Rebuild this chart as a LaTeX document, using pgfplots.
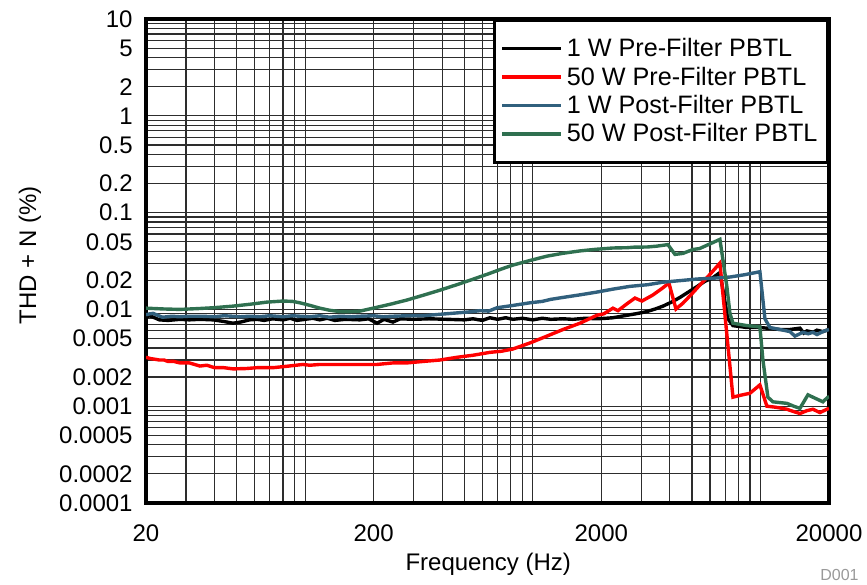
\documentclass[border=0pt]{standalone}
\usepackage{pgfplots}
\pgfplotsset{compat=1.18}
\usepackage{fontspec}
\setmainfont{Liberation Sans}
\definecolor{tiblue}{RGB}{49,96,125}
\definecolor{tigreen}{RGB}{47,112,80}
\definecolor{gridc}{RGB}{45,45,45}
\begin{document}
\fontsize{12pt}{14pt}\selectfont
\begin{tikzpicture}
\useasboundingbox (-73pt,-40.5pt) rectangle (360.5pt,251.5pt);
\begin{axis}[
  scale only axis, width=341.5pt, height=242pt,
  xmode=log, ymode=log,
  xmin=20, xmax=20000, ymin=0.0001, ymax=10,
  xtick={20,200,2000,20000}, xticklabels={20,200,2000,20000},
  minor xtick={30,40,50,60,70,80,90,100,300,400,500,600,700,800,900,1000,3000,4000,5000,6000,7000,8000,9000,10000},
  ytick={0.0001,0.0002,0.0005,0.001,0.002,0.005,0.01,0.02,0.05,0.1,0.2,0.5,1,2,5,10},
  yticklabels={0.0001,0.0002,0.0005,0.001,0.002,0.005,0.01,0.02,0.05,0.1,0.2,0.5,1,2,5,10},
  minor ytick={0.0003,0.0004,0.0006,0.0007,0.0008,0.0009,0.003,0.004,0.006,0.007,0.008,0.009,0.03,0.04,0.06,0.07,0.08,0.09,0.3,0.4,0.6,0.7,0.8,0.9,3,4,6,7,8,9},
  grid=both,
  major grid style={draw=gridc, line width=0.6pt},
  minor grid style={draw=gridc, line width=0.6pt},
  major tick length=0pt, minor tick length=0pt,
  axis line style={line width=2pt},
  xticklabel shift=6.5pt, yticklabel shift=2.5pt,
  xlabel={Frequency (Hz)}, ylabel={THD + N (\%)},
  xlabel style={at={(axis description cs:0.501,-0.127)}, anchor=center},
  ylabel style={at={(axis description cs:-0.170,0.512)}, anchor=center},
  legend cell align=left,
  legend style={at={(rel axis cs:1,1)}, anchor=north east, draw=black, line width=1.5pt, fill=white,
    font=\fontsize{12.6pt}{14pt}\selectfont, inner xsep=3pt, inner ysep=7pt, row sep=0pt,
    nodes={text height=9pt, text depth=1pt, inner ysep=2.1pt}},
  legend image code/.code={\path (-3pt,0pt) -- (26.5pt,0pt);\draw[#1, line width=1.7pt] (0pt,0pt) -- (23.5pt,0pt);},
]
\addplot[black, line width=1.7pt] table {
20 0.0083
20.8 0.0086
22.9 0.0078
25 0.0077
28.2 0.0079
31 0.0078
34.5 0.0079
39.4 0.0078
44 0.0075
48.2 0.0072
52 0.0074
57 0.0078
61.5 0.0079
66 0.0077
72 0.0080
80 0.0078
86 0.0081
92 0.0077
100 0.0079
108 0.0081
116 0.0078
125 0.0081
135 0.0077
150 0.0079
174 0.0078
190 0.0080
207 0.0072
222 0.0079
243 0.0074
262 0.0080
300 0.0079
350 0.0080
420 0.0079
500 0.0078
546 0.0080
600 0.0077
648 0.0082
700 0.0079
760 0.0082
818 0.0079
900 0.0081
1000 0.0078
1100 0.0081
1200 0.0079
1357 0.0080
1500 0.0079
1700 0.0081
1912 0.0080
2100 0.0081
2249 0.0082
2450 0.0085
2671 0.0088
2900 0.0091
3171 0.0095
3450 0.0101
3728 0.0108
4100 0.0120
4429 0.0133
4800 0.0150
5260 0.0172
5700 0.0195
6184 0.0213
6635 0.0240
7197 0.0080
7570 0.0068
8718 0.0065
9943 0.0065
10672 0.0064
12174 0.0062
13470 0.0062
14904 0.0064
15500 0.0057
16000 0.0060
16998 0.0058
17700 0.0061
18800 0.0059
20000 0.0062
};
\addlegendentry{1 W Pre-Filter PBTL}
\addplot[red, line width=1.7pt] table {
20 0.0032
21 0.0031
22 0.00305
22.9 0.0030
24 0.0030
25 0.0029
26.5 0.0029
28.2 0.0028
31 0.0028
34.5 0.0026
37 0.00265
40 0.0025
44 0.0025
48.2 0.00243
55 0.00245
61.5 0.0025
72.3 0.0025
85 0.0026
97.8 0.0027
105 0.00265
116 0.0027
142 0.0027
174 0.0027
207 0.0027
243 0.0028
280 0.0028
330 0.0029
391 0.0030
464 0.0032
546 0.00336
648 0.0036
730 0.0037
818 0.0039
971 0.0045
1154 0.0053
1357 0.0062
1611 0.0072
1912 0.0087
2050 0.0090
2249 0.0103
2366 0.0097
2600 0.0115
2810 0.0131
3016 0.0122
3370 0.0141
3700 0.0165
3962 0.0187
4254 0.0101
4565 0.0116
5000 0.0145
5422 0.0179
6000 0.0230
6635 0.0301
7570 0.00124
8200 0.0013
8718 0.00134
8986 0.00136
9943 0.00166
10672 0.00100
11500 0.00098
12174 0.00096
13068 0.00093
14000 0.00088
14904 0.00084
15998 0.00090
16998 0.00093
18240 0.00086
19780 0.00094
20000 0.00095
};
\addlegendentry{50 W Pre-Filter PBTL}
\addplot[tiblue, line width=1.7pt] table {
20 0.0088
20.8 0.0090
21.5 0.0091
22.5 0.0087
23.6 0.0083
26 0.0085
28 0.0084
31 0.0085
35 0.0085
40 0.0084
44 0.0086
48 0.0085
52 0.0084
57 0.0085
63 0.0084
70 0.0086
80 0.0084
88 0.0086
95 0.0085
105 0.0084
116 0.0086
128 0.0083
142 0.0085
160 0.0084
174 0.0085
199 0.0086
220 0.0084
243 0.0085
280 0.0086
330 0.0086
391 0.0089
464 0.0092
520 0.0094
586 0.0097
640 0.0096
696 0.0104
800 0.0109
971 0.0117
1100 0.0121
1200 0.0127
1357 0.0133
1600 0.0141
1912 0.0151
2250 0.0162
2671 0.0173
3200 0.0180
3728 0.0191
4400 0.0198
5260 0.0206
6200 0.0210
7343 0.0216
8500 0.0228
9943 0.0245
10459 0.0080
11000 0.0065
12174 0.0062
13470 0.0059
14168 0.0053
15364 0.0058
16200 0.0056
16998 0.0058
17700 0.0055
18800 0.0059
20000 0.0062
};
\addlegendentry{1 W Post-Filter PBTL}
\addplot[tigreen, line width=1.7pt] table {
20 0.0103
24 0.0101
28.2 0.0100
34 0.0102
39.4 0.0104
48 0.0108
57.2 0.0113
68 0.0119
80 0.0122
88 0.0121
94.9 0.0117
105 0.0110
116 0.0103
128 0.0098
142 0.0095
160 0.0095
174 0.0096
199 0.0103
240 0.0114
280 0.0125
330 0.0140
391 0.0158
464 0.0180
546 0.0205
648 0.0236
730 0.0262
818 0.0287
971 0.0320
1154 0.0355
1357 0.0380
1611 0.0402
1900 0.0418
2249 0.0431
2600 0.0434
2800 0.0440
3171 0.0441
3500 0.0450
3921 0.0467
4212 0.0370
4565 0.0379
5052 0.0416
5400 0.0425
5818 0.0460
6635 0.0529
7121 0.0172
7343 0.0091
7570 0.0072
8718 0.0068
9943 0.0066
10250 0.0030
10780 0.00124
11340 0.00111
13068 0.00107
14000 0.00100
14904 0.00095
16160 0.00131
17500 0.00120
18800 0.00111
19780 0.00124
20000 0.00125
};
\addlegendentry{50 W Post-Filter PBTL}
\end{axis}
\node[anchor=east, text=black!40, font=\fontsize{8pt}{9pt}\selectfont] at (360.5pt,-36pt) {D001};
\end{tikzpicture}
\end{document}
